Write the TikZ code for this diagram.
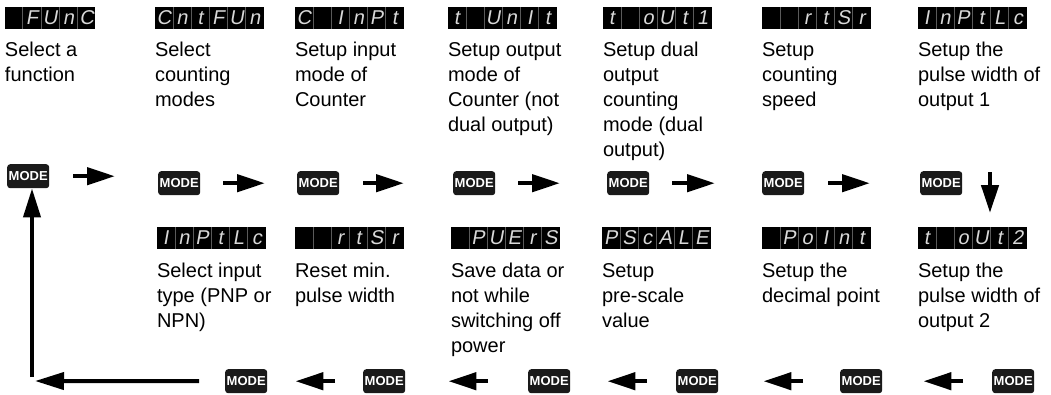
\documentclass[tikz,border=0pt]{standalone}
\usepackage{fontspec}
\setmainfont{Liberation Sans}
\newfontfamily\segfont[FakeSlant=0.18]{Liberation Sans}
\usetikzlibrary{arrows.meta}
\definecolor{segc}{HTML}{D8D8D8}
\definecolor{divc}{HTML}{5A5A5A}
\definecolor{keyc}{HTML}{1A1A1A}
\newcommand\cl[1]{\makebox[17.5pt]{#1}}
\newcommand\dv{\textcolor{divc}{\vrule width 0.7pt height 17pt depth 5pt}}
\tikzset{
  disp/.style={fill=black, inner sep=0pt, outer sep=0pt, anchor=north west,
    text=segc, font=\segfont\fontsize{20}{22}\selectfont, minimum height=22pt},
  desc/.style={inner sep=0pt, outer sep=0pt, anchor=north west, align=left,
    font=\fontsize{20}{25}\selectfont},
  modekey/.style={fill=keyc, rounded corners=3pt, text=white, inner sep=0pt,
    minimum width=42pt, minimum height=24pt, anchor=north west,
    font=\bfseries\fontsize{13}{14}\selectfont},
  arr/.style={line width=4.5pt, arrows={-Triangle[length=28pt, width=17pt]}},
  longarr/.style={line width=4pt, arrows={-Triangle[length=29pt, width=17pt]}}
}
\begin{document}
\begin{tikzpicture}[x=1pt,y=-1pt]
\useasboundingbox (0,0) rectangle (1051,394);
% top displays
\node[disp] (t1) at (5,7) {\cl{}\dv\cl{F}\dv\cl{U}\dv\cl{n}\dv\cl{C}};
\node[disp] (t2) at (155,7) {\cl{C}\dv\cl{n}\dv\cl{t}\dv\cl{F}\dv\cl{U}\dv\cl{n}};
\node[disp] (t3) at (295,7) {\cl{C}\dv\cl{}\dv\cl{I}\dv\cl{n}\dv\cl{P}\dv\cl{t}};
\node[disp] (t4) at (448,7) {\cl{t}\dv\cl{}\dv\cl{U}\dv\cl{n}\dv\cl{I}\dv\cl{t}};
\node[disp] (t5) at (603,7) {\cl{t}\dv\cl{}\dv\cl{o}\dv\cl{U}\dv\cl{t}\dv\cl{1}};
\node[disp] (t6) at (762,7) {\cl{}\dv\cl{}\dv\cl{r}\dv\cl{t}\dv\cl{S}\dv\cl{r}};
\node[disp] (t7) at (918,7) {\cl{I}\dv\cl{n}\dv\cl{P}\dv\cl{t}\dv\cl{L}\dv\cl{c}};
% top descriptions
\node[desc] (s1) at (5,38.5) {\strut Select a\\function};
\node[desc] (s2) at (155,38.5) {\strut Select\\counting\\modes};
\node[desc] (s3) at (295,38.5) {\strut Setup input\\mode of\\Counter};
\node[desc] (s4) at (448,38.5) {\strut Setup output\\mode of\\Counter (not\\dual output)};
\node[desc] (s5) at (603,38.5) {\strut Setup dual\\output\\counting\\mode (dual\\output)};
\node[desc] (s6) at (762,38.5) {\strut Setup\\counting\\speed};
\node[desc] (s7) at (918,38.5) {\strut Setup the\\pulse width of\\output 1};
% middle MODE keys
\node[modekey] (m1) at (7,164) {MODE};
\node[modekey] (m2) at (158,171) {MODE};
\node[modekey] (m3) at (297,171) {MODE};
\node[modekey] (m4) at (453,171) {MODE};
\node[modekey] (m5) at (607,171) {MODE};
\node[modekey] (m6) at (762,171) {MODE};
\node[modekey] (m7) at (920,171) {MODE};
% bottom displays
\node[disp] (u1) at (157,227) {\cl{I}\dv\cl{n}\dv\cl{P}\dv\cl{t}\dv\cl{L}\dv\cl{c}};
\node[disp] (u2) at (295,227) {\cl{}\dv\cl{}\dv\cl{r}\dv\cl{t}\dv\cl{S}\dv\cl{r}};
\node[disp] (u3) at (451,227) {\cl{}\dv\cl{P}\dv\cl{U}\dv\cl{E}\dv\cl{r}\dv\cl{S}};
\node[disp] (u4) at (602,227) {\cl{P}\dv\cl{S}\dv\cl{c}\dv\cl{A}\dv\cl{L}\dv\cl{E}};
\node[disp] (u5) at (762,227) {\cl{}\dv\cl{P}\dv\cl{o}\dv\cl{I}\dv\cl{n}\dv\cl{t}};
\node[disp] (u6) at (918,227) {\cl{t}\dv\cl{}\dv\cl{o}\dv\cl{U}\dv\cl{t}\dv\cl{2}};
% bottom descriptions
\node[desc] (v1) at (157,259.5) {\strut Select input\\type (PNP or\\NPN)};
\node[desc] (v2) at (295,259.5) {\strut Reset min.\\pulse width};
\node[desc] (v3) at (451,259.5) {\strut Save data or\\not while\\switching off\\power};
\node[desc] (v4) at (602,259.5) {\strut Setup\\pre-scale\\value};
\node[desc] (v5) at (762,259.5) {\strut Setup the\\decimal point};
\node[desc] (v6) at (918,259.5) {\strut Setup the\\pulse width of\\output 2};
% bottom MODE keys
\node[modekey] (b1) at (225,369) {MODE};
\node[modekey] (b2) at (363,369) {MODE};
\node[modekey] (b3) at (528,369) {MODE};
\node[modekey] (b4) at (676,369) {MODE};
\node[modekey] (b5) at (840,369) {MODE};
\node[modekey] (b6) at (992,369) {MODE};
% coordinates
\coordinate (dn1) at (990,172);
\coordinate (dn2) at (990,213);
\coordinate (c1) at (35,381);
\coordinate (c2) at (32,377);
% middle arrows
\draw[arr, shorten <=24pt, shorten >=43pt] (m1.east) -- (m1.east -| m2.west);
\draw[arr, shorten <=23pt, shorten >=32pt] (m2.east) -- (m3.west);
\draw[arr, shorten <=24pt, shorten >=49pt] (m3.east) -- (m4.west);
\draw[arr, shorten <=23pt, shorten >=47pt] (m4.east) -- (m5.west);
\draw[arr, shorten <=23pt, shorten >=47pt] (m5.east) -- (m6.west);
\draw[arr, shorten <=24pt, shorten >=50pt] (m6.east) -- (m7.west);
\draw[arr] (dn1) -- (dn2);
% bottom arrows
\draw[arr, shorten <=29pt, shorten >=41pt] (b6.west) -- (b5.east);
\draw[arr, shorten <=37pt, shorten >=45pt] (b5.west) -- (b4.east);
\draw[arr, shorten <=29pt, shorten >=37pt] (b4.west) -- (b3.east);
\draw[arr, shorten <=40pt, shorten >=43pt] (b3.west) -- (b2.east);
\draw[arr, shorten <=28pt, shorten >=28pt] (b2.west) -- (b1.east);
\draw[longarr, shorten <=26pt] (b1.west) -- (c1);
\draw[longarr] (c2) -- (c2 |- m1.south);
\end{tikzpicture}
\end{document}
